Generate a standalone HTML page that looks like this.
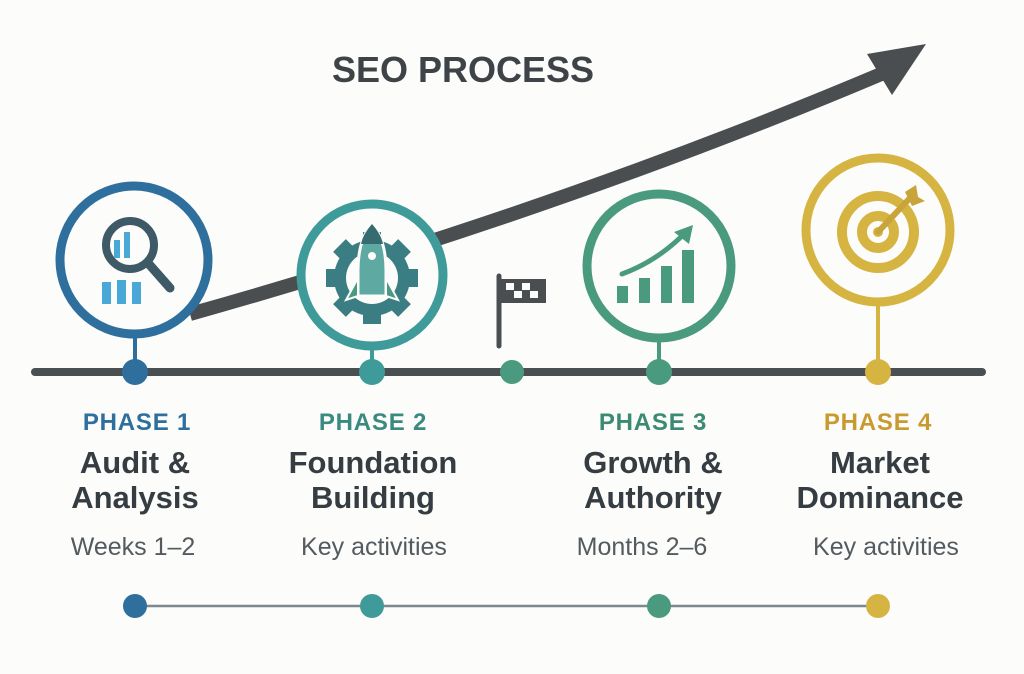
<!DOCTYPE html>
<html><head><meta charset="utf-8"><style>
html,body{margin:0;padding:0;background:#fcfcfa;}
svg{display:block}
text{font-family:"Liberation Sans",Arial,sans-serif;text-anchor:middle}
.ph{font-weight:bold;font-size:24px;letter-spacing:0.8px}
.ti{font-weight:bold;font-size:31px;fill:#353d43}
.su{font-size:25px;fill:#535b60}
</style></head><body>
<svg width="1024" height="674" viewBox="0 0 1024 674" xmlns="http://www.w3.org/2000/svg">
<rect width="1024" height="674" fill="#fcfcfa"/>
<text x="463" y="82" style="font-weight:bold;font-size:36px;fill:#3d4347">SEO PROCESS</text>
<!-- arrow -->
<path d="M190,314 Q560,210 886,72" fill="none" stroke="#4a4e51" stroke-width="14"/>
<polygon points="926,44 867,54 892,95" fill="#4a4e51"/>
<!-- timeline -->
<line x1="35" y1="372" x2="982" y2="372" stroke="#4a4f52" stroke-width="8" stroke-linecap="round"/>
<!-- stems -->
<line x1="135" y1="336" x2="135" y2="372" stroke="#2e6f9e" stroke-width="4"/>
<line x1="372" y1="350" x2="372" y2="372" stroke="#3f9a9a" stroke-width="4"/>
<line x1="659" y1="340" x2="659" y2="372" stroke="#4a9a80" stroke-width="4"/>
<line x1="878" y1="305" x2="878" y2="372" stroke="#d6b442" stroke-width="4"/>
<!-- circles -->
<circle cx="134" cy="260" r="74" fill="#fcfcfa" stroke="#2e6f9e" stroke-width="9"/>
<circle cx="372" cy="275" r="71" fill="#fcfcfa" stroke="#3f9a9a" stroke-width="9"/>
<circle cx="659" cy="266" r="72" fill="#fcfcfa" stroke="#4a9a80" stroke-width="9"/>
<circle cx="878" cy="230" r="72" fill="#fcfcfa" stroke="#d6b442" stroke-width="9"/>
<!-- icon 1 -->
<circle cx="130" cy="245" r="24" fill="none" stroke="#3e5a66" stroke-width="8"/>
<line x1="148" y1="263" x2="170" y2="288" stroke="#3e5a66" stroke-width="9" stroke-linecap="round"/>
<rect x="114" y="240" width="6" height="18" fill="#4aa8d6"/>
<rect x="124" y="232" width="6" height="26" fill="#4aa8d6"/>
<rect x="102" y="282" width="9" height="22" fill="#4aa8d6"/>
<rect x="117" y="280" width="9" height="24" fill="#4aa8d6"/>
<rect x="132" y="282" width="9" height="22" fill="#4aa8d6"/>
<!-- icon 2: gear + rocket -->
<g fill="#3a7d82">
<circle cx="372" cy="278" r="38"/>
<rect x="363" y="232" width="18" height="92"/>
<rect x="326" y="269" width="92" height="18"/>
<rect x="363" y="232" width="18" height="92" transform="rotate(45 372 278)"/>
<rect x="363" y="232" width="18" height="92" transform="rotate(-45 372 278)"/>
</g>
<circle cx="372" cy="278" r="26" fill="#fcfcfa"/>
<path d="M372,224 Q358,240 358,270 L358,296 L386,296 L386,270 Q386,240 372,224Z" fill="#5fa9a3" stroke="#fcfcfa" stroke-width="3"/>
<path d="M372,224 Q363,234 361,244 L383,244 Q381,234 372,224Z" fill="#356c70"/>
<circle cx="372" cy="256" r="4" fill="#fcfcfa"/>
<path d="M358,278 L346,300 L358,296Z" fill="#4a9a80" stroke="#fcfcfa" stroke-width="2"/>
<path d="M386,278 L398,300 L386,296Z" fill="#4a9a80" stroke="#fcfcfa" stroke-width="2"/>
<!-- flag -->
<line x1="499" y1="276" x2="499" y2="346" stroke="#4a4e51" stroke-width="5" stroke-linecap="round"/>
<rect x="501" y="279" width="45" height="24" fill="#4a4e51"/>
<g fill="#fcfcfa"><rect x="506" y="283" width="8" height="7"/><rect x="522" y="283" width="8" height="7"/><rect x="514" y="291" width="8" height="7"/><rect x="530" y="291" width="8" height="7"/></g>
<!-- icon 3 -->
<g fill="#4a9a80">
<rect x="617" y="286" width="11" height="17"/>
<rect x="639" y="278" width="11" height="25"/>
<rect x="661" y="266" width="11" height="37"/>
<rect x="682" y="250" width="12" height="53"/>
</g>
<path d="M622,274 Q655,262 682,236" fill="none" stroke="#4a9a80" stroke-width="5" stroke-linecap="round"/>
<polygon points="693,225 674,232 689,244" fill="#4a9a80"/>
<!-- icon 4 -->
<circle cx="878" cy="232" r="36" fill="none" stroke="#d6b442" stroke-width="10"/>
<circle cx="878" cy="232" r="16" fill="none" stroke="#d6b442" stroke-width="10"/>
<circle cx="878" cy="232" r="5" fill="#d6b442"/>
<line x1="878" y1="232" x2="910" y2="198" stroke="#c9a43a" stroke-width="6" stroke-linecap="round"/>
<polygon points="905,192 916,185 918,197 925,201 912,206" fill="#c9a43a"/>
<!-- timeline dots -->
<circle cx="135" cy="372" r="13" fill="#2e6f9e"/>
<circle cx="372" cy="372" r="13" fill="#3f9a9a"/>
<circle cx="512" cy="372" r="12" fill="#4a9a80"/>
<circle cx="659" cy="372" r="13" fill="#4a9a80"/>
<circle cx="878" cy="372" r="13" fill="#d6b442"/>
<!-- labels -->
<text x="137" y="430" class="ph" fill="#2e6f9e">PHASE 1</text>
<text x="373" y="430" class="ph" fill="#3a8a80">PHASE 2</text>
<text x="653" y="430" class="ph" fill="#3a8a74">PHASE 3</text>
<text x="878" y="430" class="ph" fill="#c99a30">PHASE 4</text>
<text x="135" y="473" class="ti">Audit &amp;</text>
<text x="135" y="508" class="ti">Analysis</text>
<text x="373" y="473" class="ti">Foundation</text>
<text x="373" y="508" class="ti">Building</text>
<text x="653" y="473" class="ti">Growth &amp;</text>
<text x="653" y="508" class="ti">Authority</text>
<text x="880" y="473" class="ti">Market</text>
<text x="880" y="508" class="ti">Dominance</text>
<text x="133" y="555" class="su">Weeks 1–2</text>
<text x="374" y="555" class="su">Key activities</text>
<text x="642" y="555" class="su">Months 2–6</text>
<text x="886" y="555" class="su">Key activities</text>
<!-- bottom line -->
<line x1="135" y1="606" x2="878" y2="606" stroke="#7d878e" stroke-width="2.5"/>
<circle cx="135" cy="606" r="12" fill="#2e6f9e"/>
<circle cx="372" cy="606" r="12" fill="#3f9a9a"/>
<circle cx="659" cy="606" r="12" fill="#4a9a80"/>
<circle cx="878" cy="606" r="12" fill="#d6b442"/>
</svg>
</body></html>
